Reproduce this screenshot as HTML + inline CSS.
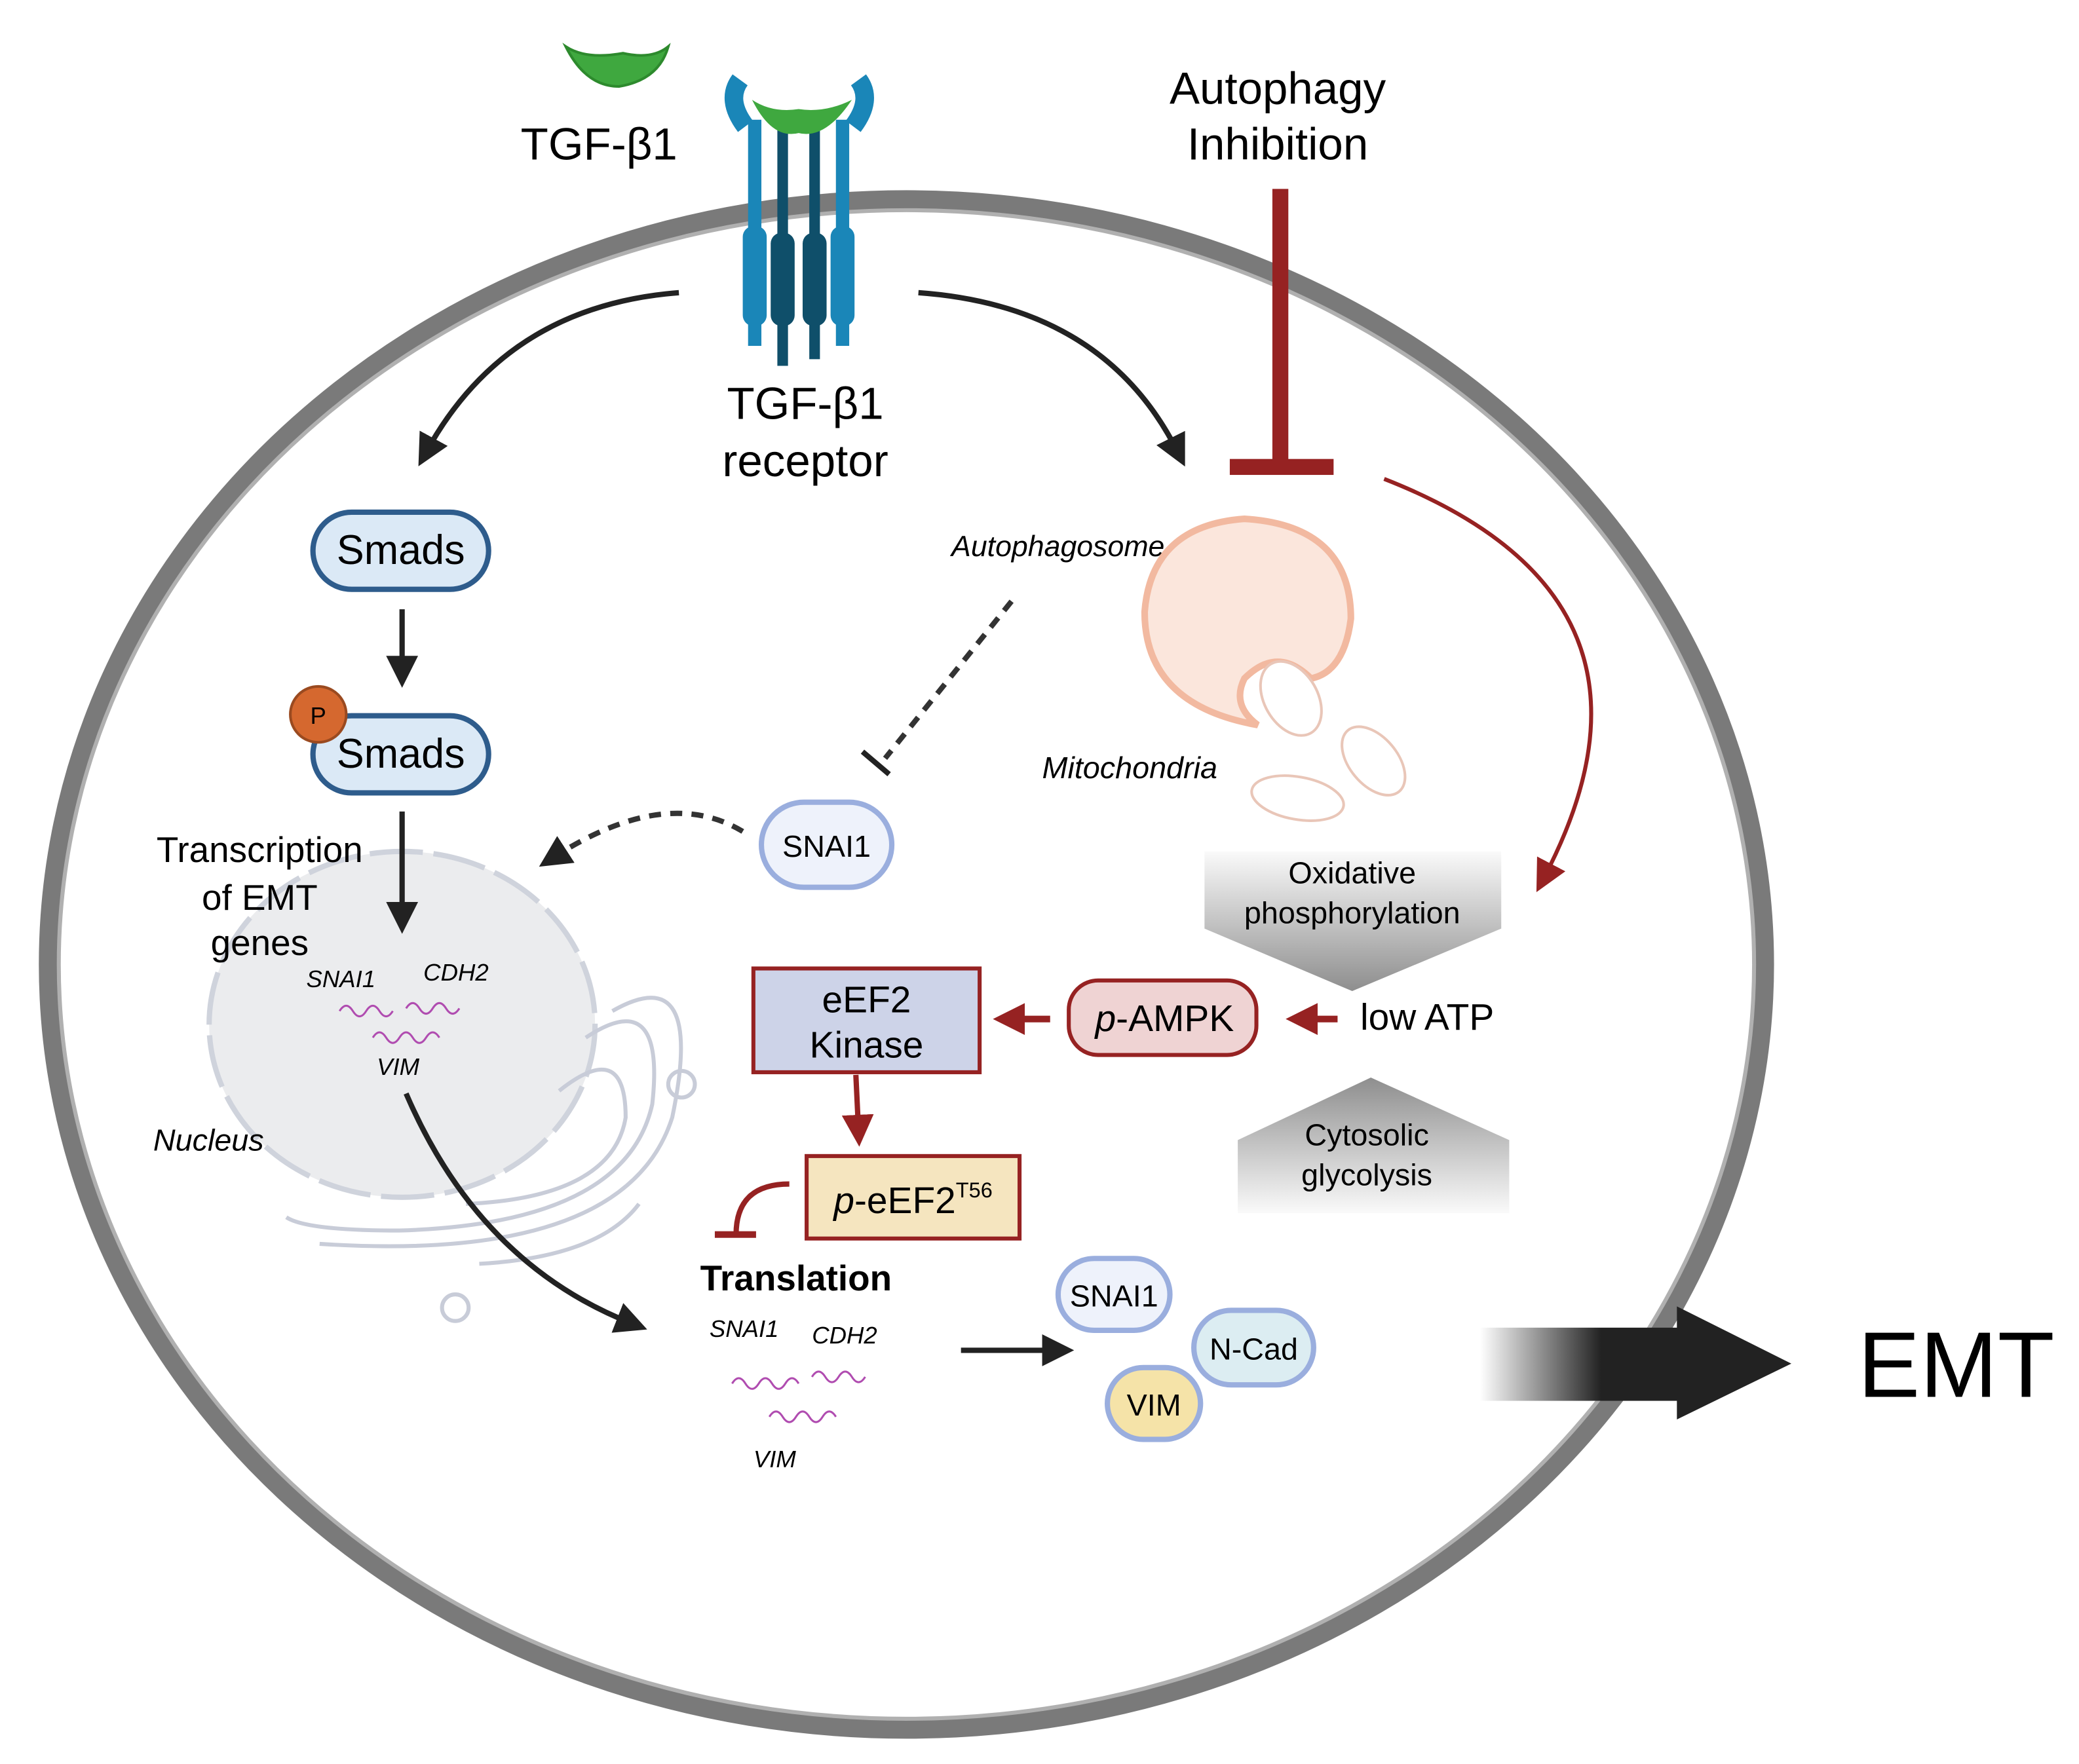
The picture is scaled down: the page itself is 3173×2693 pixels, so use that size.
<!DOCTYPE html>
<html><head><meta charset="utf-8"><style>
html,body{margin:0;padding:0;background:#fff}
svg{display:block}
text{font-family:"Liberation Sans",sans-serif}
</style></head><body>
<svg width="3173" height="2693" viewBox="0 0 1562 1326" xmlns="http://www.w3.org/2000/svg">
<defs>
<linearGradient id="g1" x1="0" y1="0" x2="0" y2="1"><stop offset="0" stop-color="#fafafa"/><stop offset="1" stop-color="#8e8e8e"/></linearGradient>
<linearGradient id="g2" x1="0" y1="0" x2="0" y2="1"><stop offset="0" stop-color="#8e8e8e"/><stop offset="1" stop-color="#fafafa"/></linearGradient>
<linearGradient id="g3" x1="0" y1="0" x2="1" y2="0"><stop offset="0" stop-color="#fff"/><stop offset="0.6" stop-color="#222"/><stop offset="1" stop-color="#222"/></linearGradient>
<marker id="ab" markerWidth="8" markerHeight="8" refX="5" refY="4" orient="auto" markerUnits="userSpaceOnUse" viewBox="0 0 8 8"><path d="M0,0 L8,4 L0,8 z" fill="#222"/></marker>
<marker id="abk" markerWidth="24" markerHeight="24" refX="12" refY="12" orient="auto" markerUnits="userSpaceOnUse"><path d="M0,0 L24,12 L0,24 z" fill="#222"/></marker>
<marker id="ar" markerWidth="24" markerHeight="24" refX="12" refY="12" orient="auto" markerUnits="userSpaceOnUse"><path d="M0,0 L24,12 L0,24 z" fill="#962222"/></marker>
</defs>
<!-- cell -->
<ellipse cx="681" cy="725" rx="645" ry="575" fill="none" stroke="#7a7a7a" stroke-width="14"/>
<ellipse cx="681" cy="725" rx="637" ry="567" fill="none" stroke="#b0b0b0" stroke-width="3"/>
<!-- nucleus -->
<ellipse cx="302" cy="770" rx="145" ry="130" fill="#ebecee" stroke="#cfd3dc" stroke-width="4" stroke-dasharray="40 8"/>
<g fill="none" stroke="#c8ccd8" stroke-width="3">
<path d="M420,820 Q470,780 470,840 Q460,900 350,905"/>
<path d="M440,780 Q500,740 490,830 Q470,920 300,925 Q230,925 215,915"/>
<path d="M460,760 Q530,720 505,840 Q470,950 240,935"/>
<circle cx="512" cy="815" r="10"/><circle cx="342" cy="983" r="10"/>
<path d="M360,950 Q450,945 480,905"/>
</g>
<text x="115" y="865" font-size="23" font-style="italic">Nucleus</text>
<text x="195" y="648" font-size="27" text-anchor="middle">Transcription</text>
<text x="195" y="684" font-size="27" text-anchor="middle">of EMT</text>
<text x="195" y="718" font-size="27" text-anchor="middle">genes</text>
<text x="230" y="742" font-size="18" font-style="italic">SNAI1</text>
<text x="318" y="737" font-size="18" font-style="italic">CDH2</text>
<text x="283" y="808" font-size="18" font-style="italic">VIM</text>
<g fill="none" stroke="#b04cb0" stroke-width="1.5">
<path d="M255,760 q5,-8 10,0 t10,0 t10,0 t10,0"/><path d="M305,758 q5,-8 10,0 t10,0 t10,0 t10,0"/><path d="M280,780 q5,-8 10,0 t10,0 t10,0 t10,0 t10,0"/>
<path d="M550,1040 q5,-8 10,0 t10,0 t10,0 t10,0 t10,0"/><path d="M610,1035 q5,-8 10,0 t10,0 t10,0 t10,0"/><path d="M578,1065 q5,-8 10,0 t10,0 t10,0 t10,0 t10,0"/>
</g>
<!-- ligand -->
<path d="M425,35 Q440,65 465,65 Q495,60 502,35 Q490,45 468,40 Q440,45 425,35z" fill="#3fa83f" stroke="#2d8a2d" stroke-width="2"/>
<text x="450" y="120" font-size="34" text-anchor="middle">TGF-β1</text>
<!-- receptor -->
<g>
<path d="M556,60 Q545,75 560,95" stroke="#1a86b8" stroke-width="14" fill="none"/>
<path d="M645,60 Q656,75 641,95" stroke="#1a86b8" stroke-width="14" fill="none"/>
<rect x="562" y="90" width="10" height="170" fill="#1a86b8"/><rect x="628" y="90" width="10" height="170" fill="#1a86b8"/>
<rect x="558" y="170" width="18" height="75" rx="8" fill="#1a86b8"/><rect x="624" y="170" width="18" height="75" rx="8" fill="#1a86b8"/>
<rect x="584" y="95" width="8" height="180" fill="#0f4f6a"/><rect x="608" y="95" width="8" height="175" fill="#0f4f6a"/>
<rect x="579" y="175" width="18" height="70" rx="8" fill="#0f4f6a"/><rect x="603" y="175" width="18" height="70" rx="8" fill="#0f4f6a"/>
<path d="M565,75 Q580,105 600,100 Q620,105 640,75 Q620,85 600,82 Q580,85 565,75z" fill="#3fa83f"/>
</g>
<text x="605" y="315" font-size="34" text-anchor="middle">TGF-β1</text>
<text x="605" y="358" font-size="34" text-anchor="middle">receptor</text>
<text x="960" y="78" font-size="34" text-anchor="middle">Autophagy</text>
<text x="960" y="120" font-size="34" text-anchor="middle">Inhibition</text>
<!-- arrows top -->
<path d="M510,220 Q380,230 320,340" stroke="#222" stroke-width="4" fill="none" marker-end="url(#abk)"/>
<path d="M690,220 Q830,230 885,340" stroke="#222" stroke-width="4" fill="none" marker-end="url(#abk)"/>
<rect x="956" y="142" width="12" height="210" fill="#962222"/>
<rect x="924" y="345" width="78" height="12" fill="#962222"/>
<path d="M1040,360 Q1270,450 1160,660" stroke="#962222" stroke-width="3" fill="none" marker-end="url(#ar)"/>
<!-- smads -->
<rect x="235" y="385" width="132" height="58" rx="29" fill="#dbe9f6" stroke="#2e5c8c" stroke-width="4"/>
<text x="301" y="424" font-size="31" text-anchor="middle">Smads</text>
<path d="M302,458 V505" stroke="#222" stroke-width="4" marker-end="url(#abk)"/>
<rect x="235" y="538" width="132" height="58" rx="29" fill="#dbe9f6" stroke="#2e5c8c" stroke-width="4"/>
<text x="301" y="577" font-size="31" text-anchor="middle">Smads</text>
<circle cx="239" cy="537" r="21" fill="#d5682f" stroke="#9a4a20" stroke-width="2"/>
<text x="239" y="544" font-size="18" text-anchor="middle">P</text>
<path d="M302,610 V690" stroke="#222" stroke-width="4" marker-end="url(#abk)"/>
<!-- autophagosome -->
<text x="875" y="418" font-size="22" font-style="italic" text-anchor="end">Autophagosome</text>
<path d="M945,545 Q860,530 860,460 Q865,395 935,390 Q1015,395 1015,465 Q1010,505 985,510 Q960,485 935,510 Q925,530 945,545z" fill="#fbe6dc" stroke="#f2b9a0" stroke-width="5"/>
<g fill="#fff" stroke="#e9c6b8" stroke-width="2">
<ellipse cx="970" cy="525" rx="20" ry="30" transform="rotate(-30 970 525)"/>
<ellipse cx="1032" cy="572" rx="18" ry="30" transform="rotate(-40 1032 572)"/>
<ellipse cx="975" cy="600" rx="35" ry="16" transform="rotate(10 975 600)"/>
</g>
<text x="783" y="585" font-size="23" font-style="italic">Mitochondria</text>
<path d="M760,452 L665,570" stroke="#333" stroke-width="4" stroke-dasharray="9 7"/>
<path d="M648,565 L668,582" stroke="#222" stroke-width="4"/>
<!-- SNAI1 -->
<rect x="572" y="603" width="98" height="64" rx="32" fill="#eef2fb" stroke="#9aaede" stroke-width="4"/>
<text x="621" y="644" font-size="23" text-anchor="middle">SNAI1</text>
<path d="M558,625 Q500,590 415,645" stroke="#333" stroke-width="4" stroke-dasharray="9 7" fill="none" marker-end="url(#abk)"/>
<!-- metabolism -->
<path d="M905,640 H1128 V698 L1016,745 L905,698z" fill="url(#g1)"/>
<text x="1016" y="664" font-size="23" text-anchor="middle">Oxidative</text>
<text x="1016" y="694" font-size="23" text-anchor="middle">phosphorylation</text>
<path d="M930,857 L1030,810 L1134,857 V912 H930z" fill="url(#g2)"/>
<text x="1027" y="861" font-size="23" text-anchor="middle">Cytosolic</text>
<text x="1027" y="891" font-size="23" text-anchor="middle">glycolysis</text>
<text x="1022" y="774" font-size="28">low ATP</text>
<path d="M1005,766 H978" stroke="#962222" stroke-width="5" marker-end="url(#ar)"/>
<rect x="803" y="737" width="141" height="56" rx="22" fill="#efd3d3" stroke="#962222" stroke-width="3"/>
<text x="875" y="775" font-size="28" text-anchor="middle"><tspan font-style="italic">p</tspan>-AMPK</text>
<path d="M789,766 H758" stroke="#962222" stroke-width="5" marker-end="url(#ar)"/>
<rect x="566" y="728" width="170" height="78" fill="#cdd3e8" stroke="#962222" stroke-width="3"/>
<text x="651" y="761" font-size="28" text-anchor="middle">eEF2</text>
<text x="651" y="795" font-size="28" text-anchor="middle">Kinase</text>
<path d="M643,808 L645,850" stroke="#962222" stroke-width="4" marker-end="url(#ar)"/>
<rect x="606" y="869" width="160" height="62" fill="#f5e5bf" stroke="#962222" stroke-width="3"/>
<text x="686" y="912" font-size="28" text-anchor="middle"><tspan font-style="italic">p</tspan>-eEF2<tspan font-size="16" dy="-12">T56</tspan></text>
<path d="M593,890 Q553,890 553,928" stroke="#962222" stroke-width="4" fill="none"/>
<path d="M537,928 H568" stroke="#962222" stroke-width="5"/>
<text x="598" y="970" font-size="27" font-weight="bold" text-anchor="middle">Translation</text>
<text x="533" y="1005" font-size="18" font-style="italic">SNAI1</text>
<text x="610" y="1010" font-size="18" font-style="italic">CDH2</text>
<text x="566" y="1103" font-size="18" font-style="italic">VIM</text>
<path d="M305,822 Q360,950 475,995" stroke="#222" stroke-width="4" fill="none" marker-end="url(#abk)"/>
<path d="M722,1015 H795" stroke="#222" stroke-width="4" marker-end="url(#abk)"/>
<!-- proteins -->
<rect x="795" y="946" width="84" height="54" rx="27" fill="#eef2fb" stroke="#9aaede" stroke-width="4"/>
<text x="837" y="982" font-size="23" text-anchor="middle">SNAI1</text>
<rect x="897" y="985" width="90" height="56" rx="28" fill="#dcedf2" stroke="#9aaede" stroke-width="4"/>
<text x="942" y="1022" font-size="23" text-anchor="middle">N-Cad</text>
<rect x="832" y="1028" width="70" height="54" rx="27" fill="#f5e3a8" stroke="#9aaede" stroke-width="4"/>
<text x="867" y="1064" font-size="23" text-anchor="middle">VIM</text>
<!-- EMT -->
<rect x="1112" y="998" width="152" height="55" fill="url(#g3)"/>
<path d="M1260,982 L1346,1025 L1260,1067z" fill="#222"/>
<text x="1396" y="1050" font-size="70">EMT</text>
</svg>
</body></html>
